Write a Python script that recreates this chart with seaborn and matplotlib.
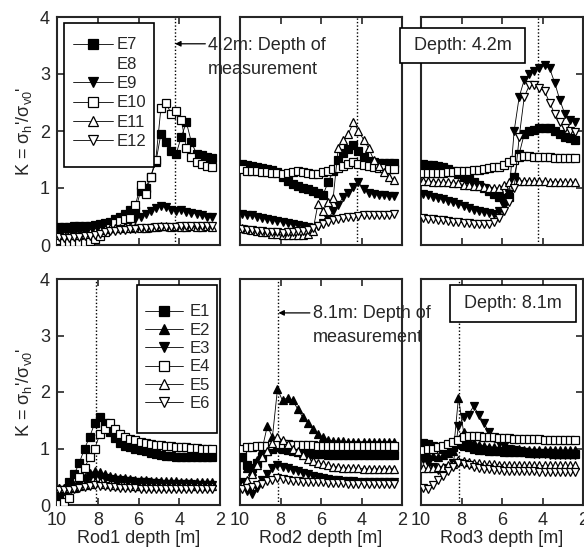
import matplotlib
matplotlib.use("Agg")
import matplotlib.pyplot as plt
from matplotlib.lines import Line2D
from matplotlib.patches import Rectangle
import seaborn as sns

sns.set_style("ticks")
plt.rcParams["font.family"] = ["Liberation Sans", "DejaVu Sans"]
plt.rcParams["mathtext.fontset"] = "custom"
plt.rcParams["mathtext.rm"] = "Liberation Sans"
plt.rcParams["mathtext.it"] = "Liberation Sans:italic"

# ---------------------------------------------------------------- data
depth = [9.9, 9.65, 9.4, 9.15, 8.9, 8.65, 8.4, 8.15, 7.9, 7.65, 7.4, 7.15,
         6.9, 6.65, 6.4, 6.15, 5.9, 5.65, 5.4, 5.15, 4.9, 4.65, 4.4, 4.15,
         3.9, 3.65, 3.4, 3.15, 2.9, 2.65, 2.4]

# measurement depth 4.2 m (sensors E7-E12), rods 1-3
r1_E7 = [0.32, 0.32, 0.32, 0.33, 0.33, 0.33, 0.34, 0.35, 0.36, 0.38, 0.40, 0.45,
         0.50, 0.55, 0.62, 0.60, 0.95, 1.00, 1.20, 1.45, 1.95, 1.80, 1.65, 1.60,
         1.90, 2.15, 1.80, 1.60, 1.58, 1.55, 1.52]
r1_E9 = [0.22, 0.22, 0.23, 0.23, 0.24, 0.24, 0.25, 0.26, 0.28, 0.30, 0.32, 0.35,
         0.38, 0.40, 0.42, 0.45, 0.50, 0.55, 0.60, 0.65, 0.68, 0.66, 0.62, 0.60,
         0.62, 0.58, 0.57, 0.55, 0.52, 0.50, 0.50]
r1_E10 = [0.08, 0.06, 0.05, 0.05, 0.05, 0.06, 0.07, 0.10, 0.15, 0.22, 0.30, 0.38,
          0.42, 0.45, 0.48, 0.70, 1.05, 0.90, 1.20, 1.50, 2.40, 2.50, 2.30, 2.35,
          2.20, 1.70, 1.55, 1.45, 1.42, 1.38, 1.37]
r1_E11 = [0.18, 0.17, 0.17, 0.18, 0.18, 0.20, 0.22, 0.24, 0.26, 0.28, 0.30, 0.30,
          0.30, 0.32, 0.30, 0.32, 0.30, 0.30, 0.32, 0.32, 0.33, 0.33, 0.32, 0.33,
          0.32, 0.32, 0.33, 0.32, 0.32, 0.33, 0.32]
r1_E12 = [0.14, 0.13, 0.13, 0.14, 0.14, 0.15, 0.16, 0.18, 0.20, 0.22, 0.24, 0.25,
          0.26, 0.27, 0.28, 0.28, 0.30, 0.30, 0.30, 0.31, 0.32, 0.32, 0.32, 0.32,
          0.33, 0.33, 0.33, 0.33, 0.33, 0.33, 0.33]

r2_E7 = [1.42, 1.40, 1.38, 1.37, 1.35, 1.33, 1.32, 1.28, 1.20, 1.12, 1.07, 1.03,
         1.00, 0.98, 0.95, 0.92, 0.88, 1.10, 1.30, 1.50, 1.62, 1.68, 1.75, 1.65,
         1.55, 1.47, 1.45, 1.44, 1.43, 1.43, 1.43]
r2_E9 = [0.55, 0.53, 0.52, 0.50, 0.48, 0.46, 0.44, 0.42, 0.40, 0.38, 0.36, 0.35,
         0.33, 0.32, 0.30, 0.33, 0.38, 0.45, 0.60, 0.70, 0.85, 0.92, 1.02, 1.10,
         0.98, 0.92, 0.90, 0.88, 0.87, 0.86, 0.86]
r2_E10 = [1.33, 1.30, 1.30, 1.30, 1.28, 1.28, 1.27, 1.26, 1.25, 1.27, 1.28, 1.30,
          1.28, 1.27, 1.25, 1.25, 1.28, 1.30, 1.33, 1.35, 1.38, 1.42, 1.45, 1.42,
          1.40, 1.38, 1.37, 1.35, 1.35, 1.34, 1.33]
r2_E11 = [0.30, 0.28, 0.27, 0.25, 0.23, 0.22, 0.20, 0.20, 0.18, 0.18, 0.17, 0.17,
          0.18, 0.20, 0.25, 0.72, 0.60, 0.75, 0.82, 1.70, 1.85, 1.95, 2.15, 2.00,
          1.85, 1.70, 1.50, 1.38, 1.28, 1.20, 1.14]
r2_E12 = [0.28, 0.27, 0.26, 0.25, 0.24, 0.23, 0.22, 0.22, 0.21, 0.22, 0.23, 0.24,
          0.25, 0.27, 0.30, 0.33, 0.36, 0.40, 0.43, 0.45, 0.47, 0.49, 0.50, 0.51,
          0.52, 0.52, 0.53, 0.53, 0.53, 0.53, 0.54]

r3_E7 = [1.42, 1.41, 1.40, 1.38, 1.36, 1.33, 1.30, 1.25, 1.20, 1.15, 1.10, 1.05,
         1.00, 0.95, 0.90, 0.85, 0.82, 0.85, 1.20, 1.60, 1.95, 2.00, 2.02, 2.05,
         2.05, 2.05, 2.00, 1.95, 1.90, 1.87, 1.85]
r3_E9 = [0.90, 0.87, 0.85, 0.82, 0.80, 0.78, 0.75, 0.72, 0.68, 0.65, 0.62, 0.60,
         0.58, 0.56, 0.55, 0.60, 0.68, 0.90, 2.00, 2.60, 2.90, 3.00, 3.05, 3.10,
         3.15, 3.10, 2.85, 2.55, 2.30, 2.20, 2.15]
r3_E10 = [1.26, 1.26, 1.27, 1.27, 1.27, 1.28, 1.28, 1.29, 1.30, 1.30, 1.31, 1.32,
          1.33, 1.35, 1.36, 1.37, 1.40, 1.45, 1.50, 1.55, 1.56, 1.56, 1.55, 1.55,
          1.55, 1.54, 1.53, 1.53, 1.52, 1.52, 1.52]
r3_E11 = [1.12, 1.12, 1.11, 1.10, 1.10, 1.10, 1.09, 1.08, 1.06, 1.05, 1.04, 1.03,
          1.02, 1.00, 1.00, 1.00, 1.05, 1.10, 1.12, 1.12, 1.13, 1.12, 1.12, 1.12,
          1.12, 1.11, 1.11, 1.11, 1.10, 1.10, 1.10]
r3_E12 = [0.48, 0.46, 0.45, 0.44, 0.43, 0.42, 0.41, 0.40, 0.39, 0.38, 0.37, 0.36,
          0.36, 0.37, 0.40, 0.48, 0.60, 0.75, 1.00, 1.90, 2.60, 2.80, 2.80, 2.75,
          2.70, 2.50, 2.30, 2.15, 2.05, 2.00, 1.98]

# measurement depth 8.1 m (sensors E1-E6), rods 1-3
r1_E1 = [0.15, 0.25, 0.40, 0.55, 0.75, 1.00, 1.20, 1.45, 1.55, 1.45, 1.30, 1.18,
         1.10, 1.05, 1.02, 1.00, 0.97, 0.95, 0.92, 0.90, 0.88, 0.86, 0.86, 0.85,
         0.85, 0.85, 0.85, 0.85, 0.85, 0.85, 0.85]
r1_E2 = [0.30, 0.30, 0.32, 0.36, 0.42, 0.50, 0.56, 0.60, 0.58, 0.55, 0.52, 0.50,
         0.48, 0.47, 0.46, 0.45, 0.44, 0.44, 0.43, 0.43, 0.42, 0.42, 0.42, 0.42,
         0.41, 0.41, 0.41, 0.41, 0.41, 0.41, 0.41]
r1_E3 = [0.25, 0.26, 0.28, 0.32, 0.38, 0.45, 0.50, 0.52, 0.50, 0.48, 0.46, 0.45,
         0.44, 0.43, 0.42, 0.41, 0.40, 0.40, 0.39, 0.39, 0.38, 0.38, 0.38, 0.37,
         0.37, 0.37, 0.37, 0.36, 0.36, 0.36, 0.36]
r1_E4 = [0.02, 0.05, 0.12, 0.30, 0.50, 0.65, 0.85, 1.00, 1.25, 1.35, 1.45, 1.35,
         1.25, 1.20, 1.17, 1.15, 1.12, 1.10, 1.08, 1.07, 1.06, 1.05, 1.04, 1.03,
         1.02, 1.02, 1.01, 1.01, 1.00, 1.00, 1.00]
r1_E5 = [0.30, 0.30, 0.30, 0.31, 0.33, 0.35, 0.38, 0.40, 0.40, 0.38, 0.37, 0.36,
         0.35, 0.35, 0.35, 0.34, 0.34, 0.34, 0.34, 0.34, 0.34, 0.34, 0.34, 0.34,
         0.34, 0.34, 0.34, 0.34, 0.34, 0.34, 0.34]
r1_E6 = [0.26, 0.26, 0.27, 0.28, 0.30, 0.32, 0.34, 0.35, 0.34, 0.33, 0.32, 0.31,
         0.30, 0.30, 0.30, 0.30, 0.29, 0.29, 0.29, 0.29, 0.29, 0.29, 0.29, 0.29,
         0.29, 0.29, 0.29, 0.29, 0.29, 0.29, 0.29]

r2_E1 = [0.85, 0.70, 0.65, 0.75, 0.85, 0.95, 1.00, 1.02, 1.00, 0.97, 0.95, 0.93,
         0.92, 0.91, 0.90, 0.90, 0.90, 0.89, 0.89, 0.89, 0.88, 0.88, 0.88, 0.88,
         0.88, 0.88, 0.88, 0.88, 0.88, 0.88, 0.88]
r2_E2 = [0.85, 0.65, 0.60, 0.80, 1.00, 1.40, 1.20, 2.05, 1.85, 1.90, 1.85, 1.70,
         1.55, 1.45, 1.35, 1.25, 1.20, 1.15, 1.14, 1.13, 1.13, 1.12, 1.12, 1.12,
         1.12, 1.12, 1.12, 1.12, 1.12, 1.12, 1.12]
r2_E3 = [0.40, 0.25, 0.20, 0.30, 0.45, 0.55, 0.65, 0.70, 0.68, 0.65, 0.62, 0.60,
         0.57, 0.55, 0.52, 0.50, 0.48, 0.46, 0.45, 0.44, 0.43, 0.42, 0.42, 0.41,
         0.41, 0.40, 0.40, 0.40, 0.40, 0.40, 0.40]
r2_E4 = [1.00, 1.02, 1.03, 1.04, 1.05, 1.05, 1.06, 1.08, 1.08, 1.08, 1.07, 1.07,
         1.06, 1.06, 1.06, 1.05, 1.05, 1.05, 1.05, 1.05, 1.04, 1.04, 1.04, 1.04,
         1.04, 1.04, 1.04, 1.04, 1.04, 1.04, 1.04]
r2_E5 = [0.35, 0.45, 0.55, 0.70, 0.85, 0.95, 1.10, 1.20, 1.15, 1.08, 1.00, 0.95,
         0.88, 0.82, 0.78, 0.75, 0.72, 0.70, 0.68, 0.67, 0.66, 0.65, 0.65, 0.65,
         0.64, 0.64, 0.64, 0.64, 0.64, 0.64, 0.64]
r2_E6 = [0.28, 0.30, 0.32, 0.35, 0.38, 0.42, 0.45, 0.48, 0.46, 0.44, 0.43, 0.42,
         0.41, 0.41, 0.40, 0.40, 0.40, 0.39, 0.39, 0.39, 0.39, 0.38, 0.38, 0.38,
         0.38, 0.38, 0.38, 0.38, 0.38, 0.38, 0.38]

r3_E1 = [1.10, 1.08, 1.05, 1.02, 1.00, 1.00, 1.02, 1.08, 1.05, 1.02, 1.00, 0.98,
         0.97, 0.96, 0.95, 0.95, 0.94, 0.94, 0.93, 0.93, 0.93, 0.92, 0.92, 0.92,
         0.92, 0.92, 0.91, 0.91, 0.91, 0.91, 0.91]
r3_E2 = [0.90, 0.88, 0.86, 0.85, 0.88, 0.92, 0.95, 1.90, 1.30, 1.15, 1.10, 1.07,
         1.05, 1.03, 1.02, 1.01, 1.00, 1.00, 0.99, 0.99, 0.98, 0.98, 0.98, 0.97,
         0.97, 0.97, 0.97, 0.97, 0.97, 0.97, 0.97]
r3_E3 = [0.82, 0.75, 0.68, 0.62, 0.60, 0.65, 0.75, 1.40, 1.55, 1.60, 1.75, 1.60,
         1.45, 1.30, 1.18, 1.10, 1.05, 1.00, 0.97, 0.95, 0.93, 0.92, 0.91, 0.90,
         0.90, 0.89, 0.89, 0.88, 0.88, 0.88, 0.88]
r3_E4 = [0.98, 0.99, 1.00, 1.02, 1.05, 1.08, 1.12, 1.15, 1.20, 1.22, 1.22, 1.22,
         1.21, 1.20, 1.20, 1.19, 1.18, 1.18, 1.17, 1.17, 1.16, 1.16, 1.16, 1.16,
         1.15, 1.15, 1.15, 1.15, 1.15, 1.15, 1.15]
r3_E5 = [0.65, 0.65, 0.66, 0.67, 0.68, 0.70, 0.72, 0.80, 0.78, 0.76, 0.75, 0.74,
         0.73, 0.72, 0.72, 0.71, 0.71, 0.70, 0.70, 0.70, 0.70, 0.70, 0.70, 0.70,
         0.70, 0.70, 0.70, 0.70, 0.70, 0.70, 0.70]
r3_E6 = [0.30, 0.28, 0.35, 0.45, 0.52, 0.60, 0.68, 0.75, 0.72, 0.70, 0.68, 0.66,
         0.64, 0.63, 0.62, 0.62, 0.61, 0.61, 0.60, 0.60, 0.60, 0.60, 0.60, 0.59,
         0.59, 0.59, 0.59, 0.59, 0.59, 0.59, 0.59]

x_ticks = [10, 8, 6, 4, 2]
y_ticks = [0, 1, 2, 3, 4]
rod_labels = ["Rod1 depth [m]", "Rod2 depth [m]", "Rod3 depth [m]"]
depth_top, depth_bottom = 4.2, 8.1

top_labels = ["E7", "E8", "E9", "E10", "E11", "E12"]
bottom_labels = ["E1", "E2", "E3", "E4", "E5", "E6"]

# sensor E8 gave no readings, so it has no curve
top_rows = [
    {"E7": r1_E7, "E9": r1_E9, "E10": r1_E10, "E11": r1_E11, "E12": r1_E12},
    {"E7": r2_E7, "E9": r2_E9, "E10": r2_E10, "E11": r2_E11, "E12": r2_E12},
    {"E7": r3_E7, "E9": r3_E9, "E10": r3_E10, "E11": r3_E11, "E12": r3_E12},
]
bottom_rows = [
    {"E1": r1_E1, "E2": r1_E2, "E3": r1_E3, "E4": r1_E4, "E5": r1_E5, "E6": r1_E6},
    {"E1": r2_E1, "E2": r2_E2, "E3": r2_E3, "E4": r2_E4, "E5": r2_E5, "E6": r2_E6},
    {"E1": r3_E1, "E2": r3_E2, "E3": r3_E3, "E4": r3_E4, "E5": r3_E5, "E6": r3_E6},
]

# marker shape and fill per sensor
style = {
    "E1": ("s", "black"), "E7": ("s", "black"),
    "E2": ("^", "black"), "E8": (None, "none"),
    "E3": ("v", "black"), "E9": ("v", "black"),
    "E4": ("s", "white"), "E10": ("s", "white"),
    "E5": ("^", "white"), "E11": ("^", "white"),
    "E6": ("v", "white"), "E12": ("v", "white"),
}

# ---------------------------------------------------------------- layout
W, H = 584, 550
fig = plt.figure(figsize=(W / 100, H / 100), dpi=100)


def axes_px(x0, x1, ytop, ybot):
    return fig.add_axes([x0 / W, 1 - ybot / H, (x1 - x0) / W, (ybot - ytop) / H])


def fig_xy(x, y):
    return x / W, 1 - y / H


cols = [(57, 220), (240, 402), (421, 583)]
rows = [(17, 245), (279, 505)]

MS = 5.8
ylab = r"K = $\mathregular{\sigma_h}$'/$\mathregular{\sigma_{v0}}$'"

axes = []
for r, (yt, yb) in enumerate(rows):
    row_axes = []
    for c, (x0, x1) in enumerate(cols):
        ax = axes_px(x0, x1, yt, yb)
        ax.set_facecolor("none")
        series = top_rows[c] if r == 0 else bottom_rows[c]
        for name, vals in series.items():
            mk, fc = style[name]
            sns.lineplot(x=depth, y=vals, ax=ax, sort=False, estimator=None,
                         color="black", linewidth=0.6, marker=mk,
                         markersize=MS, markerfacecolor=fc,
                         markeredgecolor="black", markeredgewidth=0.9,
                         legend=False, zorder=3)
        ax.axvline(depth_top if r == 0 else depth_bottom, color="black",
                   linestyle=(0, (1, 1.5)), linewidth=1.0, zorder=2)
        ax.set_xlim(10, 2)
        ax.set_ylim(0, 4)
        ax.set_xticks(x_ticks)
        ax.set_yticks(y_ticks)
        for s in ax.spines.values():
            s.set_visible(True)
            s.set_linewidth(1.5)
        ax.tick_params(axis="both", direction="in", length=5, width=1.2,
                       labelsize=13, pad=5, top=True, bottom=True,
                       left=(c == 0), right=(c == 2),
                       labelleft=(c == 0), labelright=False,
                       labelbottom=(r == 1))
        ax.set_xlabel(rod_labels[c] if r == 1 else "", fontsize=13, labelpad=1)
        if c == 0:
            ax.set_ylabel(ylab, fontsize=13, labelpad=4)
        else:
            ax.set_ylabel("")
        row_axes.append(ax)
    axes.append(row_axes)


def handles_for(labels):
    hs = []
    for name in labels:
        mk, fc = style[name]
        if mk is None:
            hs.append(Line2D([], [], linestyle="none"))
        else:
            hs.append(Line2D([], [], color="black", linewidth=0.6, marker=mk,
                             markersize=MS + 0.8, markerfacecolor=fc,
                             markeredgecolor="black", markeredgewidth=0.9))
    return hs


def legend_box(labels, frame, first_row_y, handle_x, handlelength,
               textpad, spacing):
    x0, y0, x1, y1 = frame
    fig.patches.append(Rectangle(fig_xy(x0, y1), (x1 - x0) / W, (y1 - y0) / H,
                                 transform=fig.transFigure, facecolor="white",
                                 edgecolor="black", linewidth=1.2, zorder=1))
    lg = fig.legend(handles_for(labels), labels, loc="upper left",
                    bbox_to_anchor=fig_xy(handle_x, first_row_y - 7.6),
                    bbox_transform=fig.transFigure, frameon=False,
                    borderpad=0, borderaxespad=0, fontsize=12,
                    handlelength=handlelength, handletextpad=textpad,
                    labelspacing=spacing)
    lg.set_zorder(6)
    return lg


legend_box(top_labels, (64, 23, 154, 167), 45, 73, 2.4, 0.24, 0.26)
legend_box(bottom_labels, (137, 285, 217, 433), 312, 145, 2.3, 0.4, 0.2)

# arrows pointing at the measurement depth
axes[0][0].annotate("", xy=(depth_top, 3.53), xytext=(2.72, 3.53),
                    arrowprops=dict(arrowstyle="-|>", color="black", lw=0.9,
                                    mutation_scale=8, shrinkA=0, shrinkB=0))
axes[1][1].annotate("", xy=(depth_bottom, 3.40), xytext=(6.55, 3.40),
                    arrowprops=dict(arrowstyle="-|>", color="black", lw=0.9,
                                    mutation_scale=8, shrinkA=0, shrinkB=0))


def ftext(x, y, s, **kw):
    fig.text(*fig_xy(x, y), s, fontsize=13, **kw)


ftext(208, 50, "4.2m: Depth of", ha="left", va="baseline")
ftext(208, 74, "measurement", ha="left", va="baseline")
ftext(313, 318, "8.1m: Depth of", ha="left", va="baseline")
ftext(313, 342, "measurement", ha="left", va="baseline")


def boxed(x0, y0, x1, y1, s):
    fig.patches.append(Rectangle(fig_xy(x0, y1), (x1 - x0) / W, (y1 - y0) / H,
                                 transform=fig.transFigure, facecolor="white",
                                 edgecolor="black", linewidth=1.2, zorder=4))
    fig.text(*fig_xy((x0 + x1) / 2, (y0 + y1) / 2), s, fontsize=13,
             ha="center", va="center", zorder=5)


boxed(400, 28, 525, 63, "Depth: 4.2m")
boxed(450, 285, 576, 322, "Depth: 8.1m")

fig.savefig("out.png", dpi=100)
